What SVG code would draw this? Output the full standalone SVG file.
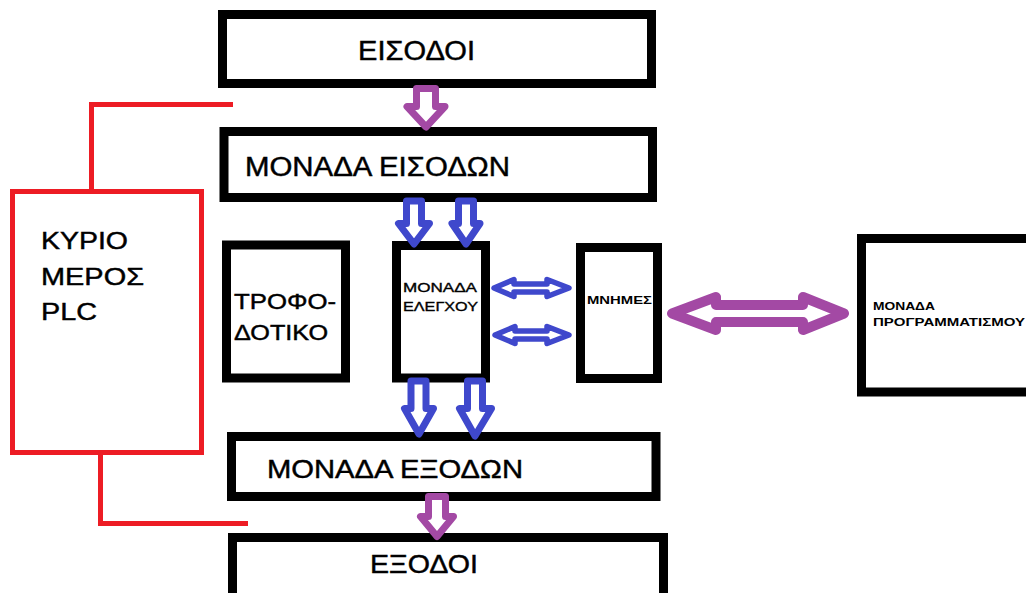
<svg xmlns="http://www.w3.org/2000/svg" width="1026" height="593" viewBox="0 0 1026 593">
<style>
.box{fill:#fff;stroke:#000;stroke-width:9}
.red{fill:none;stroke:#ED1C24;stroke-width:5}
.t{font-family:"Liberation Sans",Arial,sans-serif;fill:#000;stroke:#000;stroke-width:0.45}
.s{stroke-width:0.35}
.b{font-weight:bold;stroke-width:0}
.pa{fill:#fff;stroke:#A349A4;stroke-width:7;stroke-linejoin:round}
.pd{fill:#fff;stroke:#A349A4;stroke-width:10;stroke-linejoin:round}
.ba{fill:#fff;stroke:#3F48CC;stroke-width:7;stroke-linejoin:round}
.bd{fill:#fff;stroke:#3F48CC;stroke-width:5.5;stroke-linejoin:round}
</style>
<rect width="1026" height="593" fill="#fff"/>
<g id="kyrio">
<rect class="red" x="12.5" y="191.5" width="189" height="261"/>
<text class="t" font-size="24.5" x="41" y="249" textLength="87" lengthAdjust="spacingAndGlyphs">ΚΥΡΙΟ</text>
<text class="t" font-size="24.5" x="41" y="285" textLength="103" lengthAdjust="spacingAndGlyphs">ΜΕΡΟΣ</text>
<text class="t" font-size="24.5" x="41" y="320" textLength="56" lengthAdjust="spacingAndGlyphs">PLC</text>
</g>
<g id="eisodoi">
<rect class="box" x="222.5" y="14.5" width="429" height="69"/>
<text class="t" font-size="28" x="358" y="60" textLength="117" lengthAdjust="spacingAndGlyphs">ΕΙΣΟΔΟΙ</text>
</g>
<g id="monada-eisodon">
<rect class="box" x="224" y="131.5" width="428.5" height="66"/>
<text class="t" font-size="27" x="245" y="176" textLength="265" lengthAdjust="spacingAndGlyphs">ΜΟΝΑΔΑ ΕΙΣΟΔΩΝ</text>
</g>
<g id="trofodotiko">
<rect class="box" x="226.5" y="245" width="119" height="133"/>
<text class="t" font-size="22.5" x="234" y="309" textLength="102" lengthAdjust="spacingAndGlyphs">ΤΡΟΦΟ-</text>
<text class="t" font-size="22.5" x="234" y="340" textLength="94" lengthAdjust="spacingAndGlyphs">ΔΟΤΙΚΟ</text>
</g>
<g id="monada-elegxou">
<rect class="box" x="396.5" y="245.5" width="89" height="132.5"/>
<text class="t s" font-size="13.5" x="403" y="292" textLength="74" lengthAdjust="spacingAndGlyphs">ΜΟΝΑΔΑ</text>
<text class="t s" font-size="13.5" x="403" y="311" textLength="75" lengthAdjust="spacingAndGlyphs">ΕΛΕΓΧΟΥ</text>
</g>
<g id="mnimes">
<rect class="box" x="580.5" y="247.5" width="77" height="131"/>
<text class="t b" font-size="11" x="587" y="304" textLength="65" lengthAdjust="spacingAndGlyphs">ΜΝΗΜΕΣ</text>
</g>
<g id="monada-programmatismou">
<rect class="box" x="861.5" y="238.5" width="200" height="153.5"/>
<text class="t b" font-size="10.5" x="873" y="310" textLength="62" lengthAdjust="spacingAndGlyphs">ΜΟΝΑΔΑ</text>
<text class="t b" font-size="10.5" x="873" y="326" textLength="152" lengthAdjust="spacingAndGlyphs">ΠΡΟΓΡΑΜΜΑΤΙΣΜΟΥ</text>
</g>
<g id="monada-exodon">
<rect class="box" x="231.5" y="436.5" width="424.5" height="60"/>
<text class="t" font-size="26" x="267" y="478" textLength="256" lengthAdjust="spacingAndGlyphs">ΜΟΝΑΔΑ ΕΞΟΔΩΝ</text>
</g>
<g id="exodoi">
<rect class="box" x="232.5" y="537.5" width="431" height="70"/>
<text class="t" font-size="25.5" x="370" y="573" textLength="108" lengthAdjust="spacingAndGlyphs">ΕΞΟΔΟΙ</text>
</g>
<g id="connectors">
<polyline class="red" points="91.5,191 91.5,104.5 233,104.5"/>
<polyline class="red" points="100.5,455 100.5,523.5 248,523.5"/>
<path class="pa" d="M416.5,88.5 H435.5 V106.5 H445 L426,127 L407,106.5 H416.5 Z"/>
<path class="pa" d="M428.5,496.5 H445.5 V516.5 H453.5 L437,536.5 L420.5,516.5 H428.5 Z"/>
<path class="ba" d="M406.5,201 H421.5 V223.5 H429.5 L414,244 L398.5,223.5 H406.5 Z"/>
<path class="ba" d="M458.5,201 H473.5 V223.5 H480 L466,244 L452,223.5 H458.5 Z"/>
<path class="ba" d="M411,381 H426 V408.5 H433.5 L419,434 L404.5,408.5 H411 Z"/>
<path class="ba" d="M467.5,381 H482.5 V408.5 H491.5 L475,436 L459.5,408.5 H467.5 Z"/>
<path class="bd" d="M494,288 L514,279.5 V284 H547 V279.5 L569,288 L547,296.5 V292 H514 V296.5 Z"/>
<path class="bd" d="M495,335 L515,326.5 V331 H547 V326.5 L569,335 L547,343.5 V339 H515 V343.5 Z"/>
<path class="pd" d="M672,313.5 L716,297 V305 H803 V297 L844,313.5 L803,330 V322 H716 V330 Z"/>
</g>
</svg>
